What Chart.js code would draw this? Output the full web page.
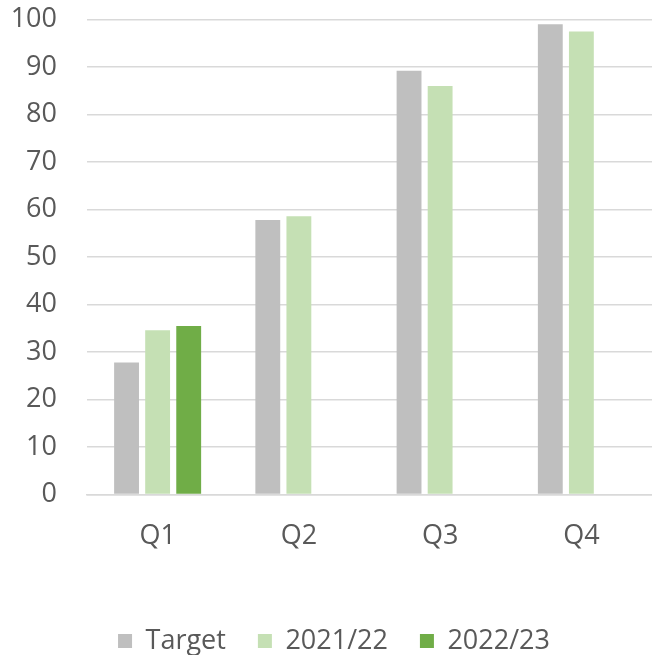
<!DOCTYPE html>
<html>
<head>
<meta charset="utf-8">
<script src="https://cdn.jsdelivr.net/npm/chart.js@4/dist/chart.umd.min.js"></script>
<style>
  html, body { margin: 0; padding: 0; background: #ffffff; }
  #wrap { width: 652px; height: 655px; }
</style>
</head>
<body>
<div id="wrap"><canvas id="c" width="652" height="655"></canvas></div>
<script>
const categories = ['Q1', 'Q2', 'Q3', 'Q4'];
const targetValues = [27.8, 57.8, 89.2, 99.0];
const values2122 = [34.6, 58.6, 86.0, 97.5];
const values2223 = [35.5, null, null, null];
const yTicks = [0, 10, 20, 30, 40, 50, 60, 70, 80, 90, 100];

const textColor = '#595959';
const gridColor = '#d9d9d9';
const fontFamily = '"Open Sans", "Liberation Sans", sans-serif';
const fontSize = 27;

// Place the legend row near the bottom of the canvas
const legendShift = {
  id: 'legendShift',
  afterLayout(chart) {
    const lg = chart.legend;
    if (!lg) return;
    const h = lg.bottom - lg.top;
    const newTop = 641 - 32 - fontSize / 2;
    lg.top = newTop;
    lg.bottom = newTop + h;
    lg.left += 8;
    lg.right += 8;
  }
};

new Chart(document.getElementById('c'), {
  type: 'bar',
  data: {
    labels: categories,
    datasets: [
      { label: 'Target', data: targetValues, backgroundColor: '#bfbfbf', borderWidth: 0 },
      { label: '2021/22', data: values2122, backgroundColor: '#c5e0b4', borderWidth: 0 },
      { label: '2022/23', data: values2223, backgroundColor: '#70ad47', borderWidth: 0 }
    ]
  },
  plugins: [legendShift],
  options: {
    responsive: false,
    animation: false,
    devicePixelRatio: 1,
    layout: { padding: { top: 19.5, bottom: 0, left: 0, right: 0 } },
    datasets: { bar: { categoryPercentage: 0.66, barPercentage: 0.8 } },
    plugins: {
      legend: {
        position: 'bottom',
        labels: {
          boxWidth: 14,
          boxHeight: 14,
          padding: 32,
          color: textColor,
          font: { family: fontFamily, size: fontSize }
        }
      },
      tooltip: { enabled: false }
    },
    scales: {
      x: {
        grid: { display: false, drawTicks: false },
        border: { display: true, color: gridColor, width: 1.5 },
        ticks: { color: textColor, padding: 26, font: { family: fontFamily, size: fontSize } },
        afterFit: (scale) => {
          scale.height = 91.5;
          scale.paddingLeft = 0; scale.paddingRight = 0;
        }
      },
      y: {
        min: 0,
        max: 100,
        afterBuildTicks: (scale) => { scale.ticks = yTicks.map(v => ({ value: v })); },
        grid: { color: gridColor, lineWidth: 1.5, drawTicks: false },
        border: { display: false },
        ticks: { color: textColor, padding: 30, font: { family: fontFamily, size: fontSize } },
        afterFit: (scale) => {
          scale.width = 87;
          scale.paddingTop = 0; scale.paddingBottom = 0;
        }
      }
    }
  }
});
</script>
</body>
</html>
